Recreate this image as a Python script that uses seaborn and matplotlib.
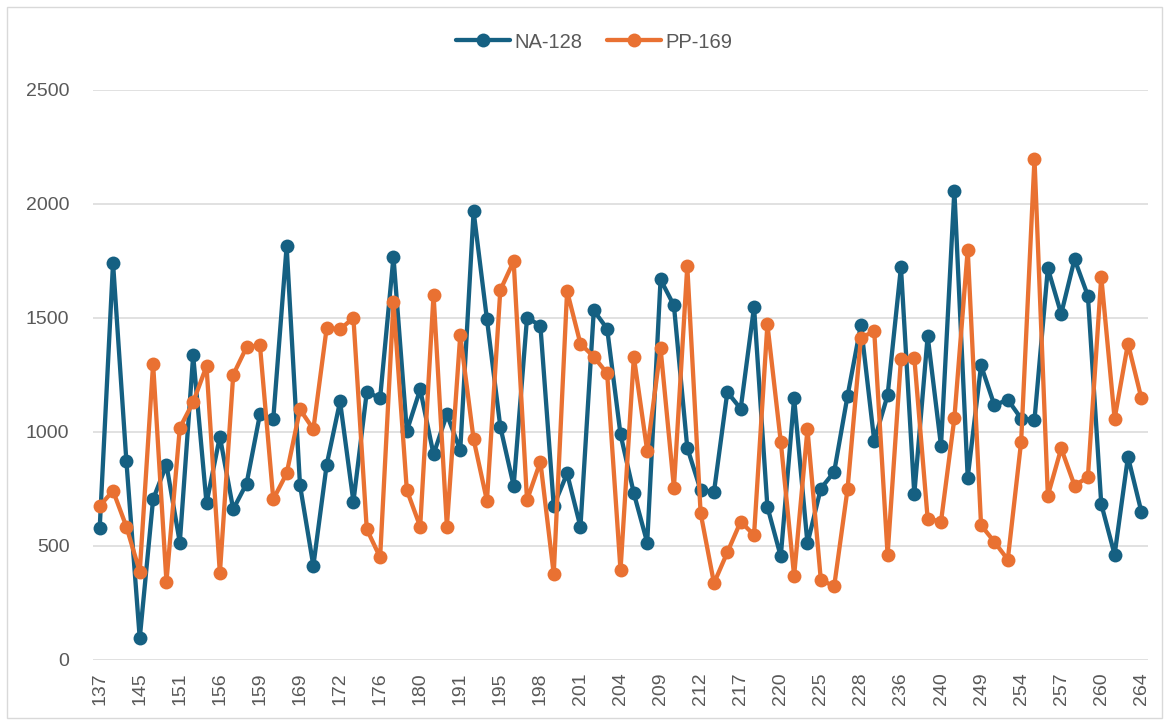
import pandas as pd
import seaborn as sns
import matplotlib.pyplot as plt
from matplotlib.patches import Rectangle

# category ids (only every third one is labelled on the axis)
ids = ['137', '139', '142', '145', '147', '149', '151', '152', '154', '156',
       '157', '158', '159', '162', '165', '169', '170', '171', '172', '173',
       '175', '176', '177', '178', '180', '184', '188', '191', '192', '193',
       '195', '196', '197', '198', '199', '200', '201', '202', '203', '204',
       '206', '207', '209', '210', '211', '212', '214', '215', '217', '218',
       '219', '220', '222', '224', '225', '226', '227', '228', '231', '233',
       '236', '237', '238', '240', '243', '246', '249', '251', '252', '254',
       '255', '256', '257', '258', '259', '260', '261', '263', '264']

na_128 = [577, 1742, 872, 95, 705, 856, 515, 1336, 688, 980,
          661, 774, 1077, 1058, 1815, 767, 413, 857, 1134, 694,
          1175, 1149, 1768, 1004, 1187, 902, 1077, 920, 1968, 1494,
          1023, 764, 1501, 1467, 676, 818, 584, 1533, 1453, 990,
          731, 515, 1669, 1555, 931, 745, 737, 1175, 1102, 1549,
          672, 454, 1150, 511, 752, 825, 1158, 1469, 961, 1161,
          1723, 727, 1421, 939, 2059, 800, 1292, 1117, 1142, 1059,
          1053, 1718, 1518, 1758, 1597, 684, 462, 891, 651]

pp_169 = [676, 742, 585, 387, 1299, 343, 1018, 1131, 1289, 380,
          1251, 1372, 1381, 705, 818, 1099, 1012, 1457, 1450, 1501,
          574, 450, 1570, 745, 585, 1603, 585, 1425, 968, 698,
          1622, 1749, 701, 870, 377, 1618, 1387, 1330, 1257, 394,
          1330, 917, 1367, 756, 1727, 644, 337, 472, 607, 548,
          1472, 958, 369, 1012, 352, 323, 749, 1413, 1442, 461,
          1321, 1326, 620, 607, 1060, 1800, 591, 518, 440, 957,
          2198, 721, 928, 765, 802, 1681, 1058, 1388, 1149]

series_names = ['NA-128', 'PP-169']
colors = {'NA-128': '#156082', 'PP-169': '#E97132'}

n = len(ids)
df = pd.DataFrame({
    'pos': list(range(n)) * 2,
    'value': na_128 + pp_169,
    'series': [series_names[0]] * n + [series_names[1]] * n,
})

sns.set_theme(style='white')
plt.rcParams['font.family'] = ['Liberation Sans', 'DejaVu Sans']

W, H = 1169, 725
fig = plt.figure(figsize=(W / 100, H / 100), dpi=100)
ax = fig.add_axes([93 / W, 65 / H, (1148 - 93) / W, 570 / H])

sns.lineplot(data=df, x='pos', y='value', hue='series', palette=colors,
             marker='o', markersize=10, markeredgewidth=0, linewidth=3.1,
             sort=False, ax=ax)

ax.set_xlim(-0.5, n - 0.5)
ax.set_ylim(0, 2500)
ax.set_yticks(range(0, 2501, 500))
ax.set_xticks(range(0, n, 3))
ax.set_xticklabels(ids[::3], rotation=90)
ax.set_xlabel('')
ax.set_ylabel('')

ax.grid(axis='y', color='#D9D9D9', linewidth=1.1)
ax.set_axisbelow(True)
for s in ax.spines.values():
    s.set_visible(False)
ax.tick_params(axis='both', length=0, labelcolor='#595959', labelsize=14)
ax.tick_params(axis='y', pad=17)
ax.tick_params(axis='x', pad=9)

handles, labels = ax.get_legend_handles_labels()
ax.get_legend().remove()
fig.legend(handles, labels, loc='center', bbox_to_anchor=(594 / W, 1 - 42 / H),
           ncol=2, frameon=False, fontsize=14.5, handlelength=2.7,
           handletextpad=0.2, columnspacing=1.2, labelcolor='#595959')

# chart area border
fig.patches.append(Rectangle((7 / W, 7 / H), 1 - 14 / W, 1 - 14 / H,
                             transform=fig.transFigure, fill=False,
                             edgecolor='#D9D9D9', linewidth=1))

fig.savefig('out.png', dpi=100)
